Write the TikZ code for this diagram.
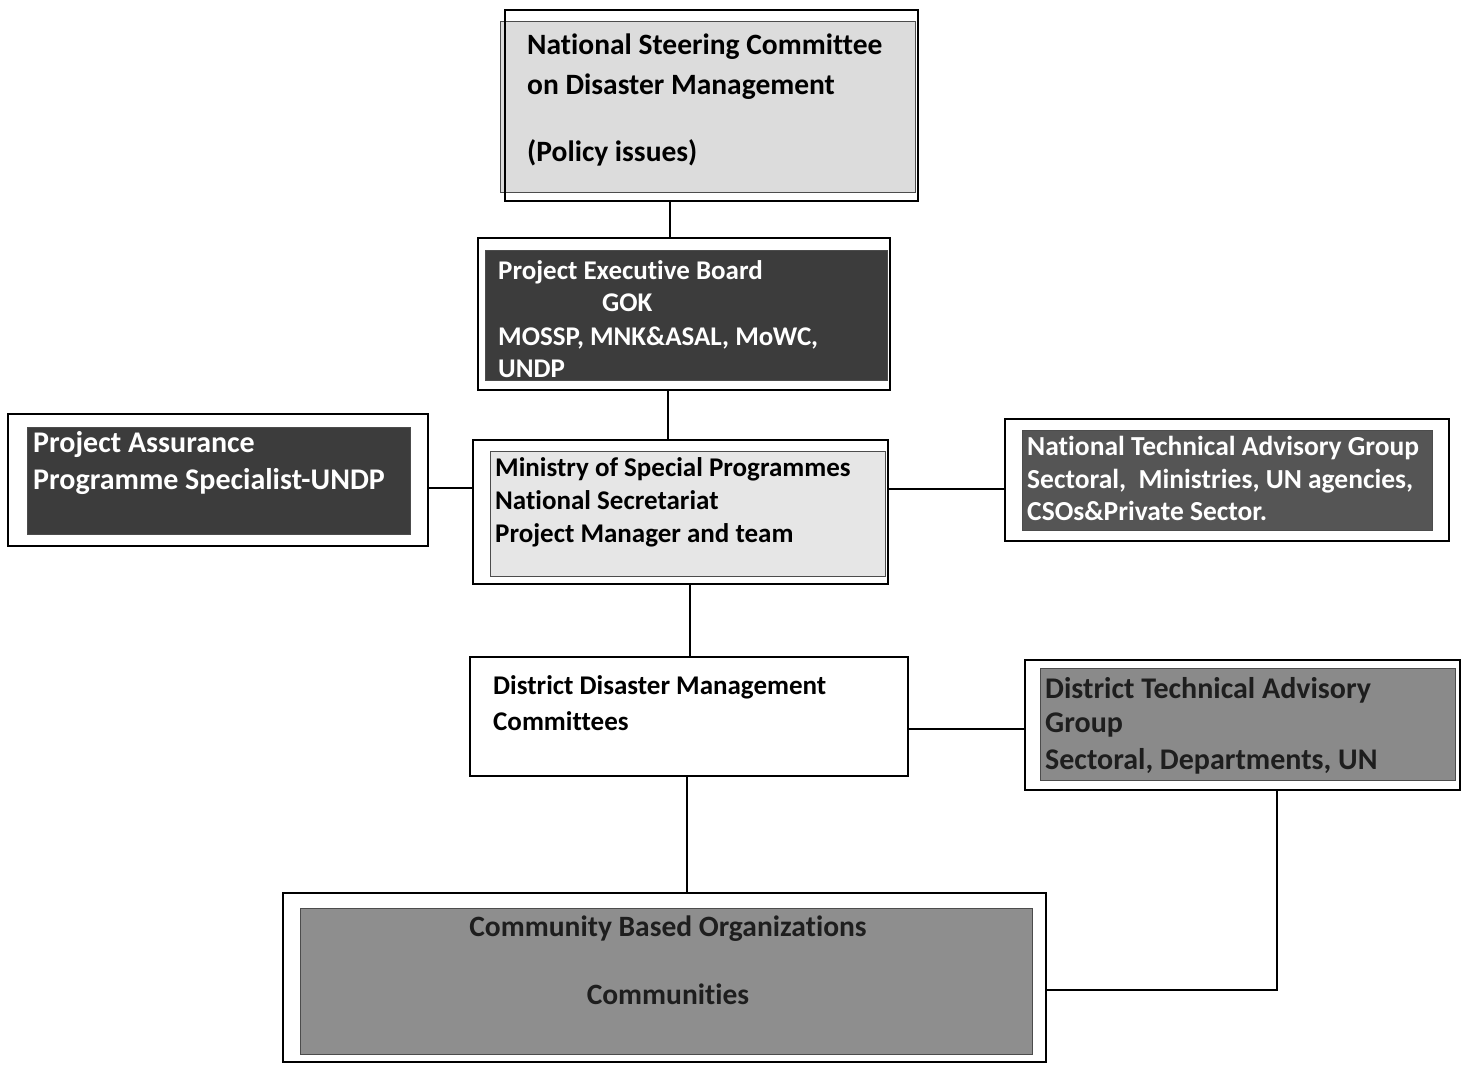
\documentclass[tikz,border=0pt]{standalone}
\usepackage{fontspec}
\setmainfont{Carlito}[Ligatures=NoCommon]
\definecolor{lightA}{HTML}{DCDCDC}
\definecolor{lightB}{HTML}{E6E6E6}
\definecolor{darkA}{HTML}{3C3C3C}
\definecolor{darkB}{HTML}{555555}
\definecolor{midA}{HTML}{8A8A8A}
\definecolor{midB}{HTML}{8E8E8E}
\definecolor{inkA}{HTML}{1E1E1E}
\newcommand{\fsz}[1]{\bfseries\fontsize{#1}{#1}\selectfont}
\tikzset{
  frame/.style={draw=black, line width=1.5pt, inner sep=0pt, rectangle},
  wire/.style={draw=black, line width=1.3pt},
  shade/.style={draw=black!70, line width=0.6pt},
  lbl/.style={anchor=base west, inner sep=0pt, font=\fsz{27}},
  lblnsc/.style={lbl, font=\fsz{29.5}},
  lblpa/.style={lbl, font=\fsz{30}, text=white},
  lblntag/.style={lbl, font=\fsz{27.5}, text=white},
  lbldtag/.style={lbl, font=\fsz{30}, text=inkA},
  lblcbo/.style={lbl, anchor=base, font=\fsz{29.5}, text=inkA},
}
\begin{document}
\begin{tikzpicture}[x=1pt,y=-1pt]
\useasboundingbox (0,0) rectangle (1462,1068);
% fills
\fill[lightA, shade] (500,21) rectangle (915,192);
\fill[darkA, shade] (485,250) rectangle (887,380);
\fill[lightB, shade] (490,451) rectangle (885,576);
\fill[darkA, shade] (27,427) rectangle (410,534);
\fill[darkB, shade] (1022,430) rectangle (1432,530);
\fill[midA, shade] (1040,668) rectangle (1455,780);
\fill[midB, shade] (300,908) rectangle (1032,1054);
% frames
\node[frame, minimum width=413pt, minimum height=191pt] (nsc) at (711.5,105.5) {};
\node[frame, minimum width=412pt, minimum height=152pt] (peb) at (684,314) {};
\node[frame, minimum width=415pt, minimum height=144pt] (min) at (680.5,512) {};
\node[frame, minimum width=420pt, minimum height=132pt] (pa) at (218,480) {};
\node[frame, minimum width=444pt, minimum height=122pt] (ntag) at (1227,480) {};
\node[frame, minimum width=438pt, minimum height=119pt] (ddmc) at (689,716.5) {};
\node[frame, minimum width=435pt, minimum height=130pt] (dtag) at (1242.5,725) {};
\node[frame, minimum width=763pt, minimum height=169pt] (cbo) at (664.5,977.5) {};
% texts
\node[lblnsc] (t1) at (527,54) {National Steering Committee};
\node[lblnsc] (t2) at (527,94) {on Disaster Management};
\node[lblnsc] (t3) at (527,161) {(Policy issues)};
\node[lbl, text=white] (t4) at (498,279) {Project Executive Board};
\node[lbl, text=white] (t5) at (602,311) {GOK};
\node[lbl, text=white] (t6) at (498,345) {MOSSP, MNK\&ASAL, MoWC,};
\node[lbl, text=white] (t7) at (498,377) {UNDP};
\node[lbl] (t8) at (495,476) {Ministry of Special Programmes};
\node[lbl] (t9) at (495,509) {National Secretariat};
\node[lbl] (t10) at (495,542) {Project Manager and team};
\node[lblpa] (t11) at (33,452) {Project Assurance};
\node[lblpa] (t12) at (33,489) {Programme Specialist-UNDP};
\node[lblntag] (t13) at (1027,455) {National Technical Advisory Group};
\node[lblntag] (t14) at (1027,488) {Sectoral,\ \ Ministries, UN agencies,};
\node[lblntag] (t15) at (1027,520) {CSOs\&Private Sector.};
\node[lbl] (t16) at (493,694) {District Disaster Management};
\node[lbl] (t17) at (493,730) {Committees};
\node[lbldtag] (t18) at (1045,698) {District Technical Advisory};
\node[lbldtag] (t19) at (1045,732) {Group};
\node[lbldtag] (t20) at (1045,769) {Sectoral, Departments, UN};
\node[lblcbo] (t21) at (668,936) {Community Based Organizations};
\node[lblcbo] (t22) at (668,1004) {Communities};
% connector guides
\coordinate (x1) at (670,0);
\coordinate (x2) at (668,0);
\coordinate (x3) at (690,0);
\coordinate (x4) at (687,0);
\coordinate (x5) at (1277,0);
\coordinate (y1) at (0,488);
\coordinate (y2) at (0,489);
\coordinate (y3) at (0,729);
\coordinate (y4) at (0,990);
% connectors
\draw[wire] (nsc.south -| x1) -- (peb.north -| x1);
\draw[wire] (peb.south -| x2) -- (min.north -| x2);
\draw[wire] (pa.east |- y1) -- (min.west |- y1);
\draw[wire] (min.east |- y2) -- (ntag.west |- y2);
\draw[wire] (min.south -| x3) -- (ddmc.north -| x3);
\draw[wire] (ddmc.east |- y3) -- (dtag.west |- y3);
\draw[wire] (ddmc.south -| x4) -- (cbo.north -| x4);
\draw[wire] (dtag.south -| x5) |- (cbo.east |- y4);
\end{tikzpicture}
\end{document}
